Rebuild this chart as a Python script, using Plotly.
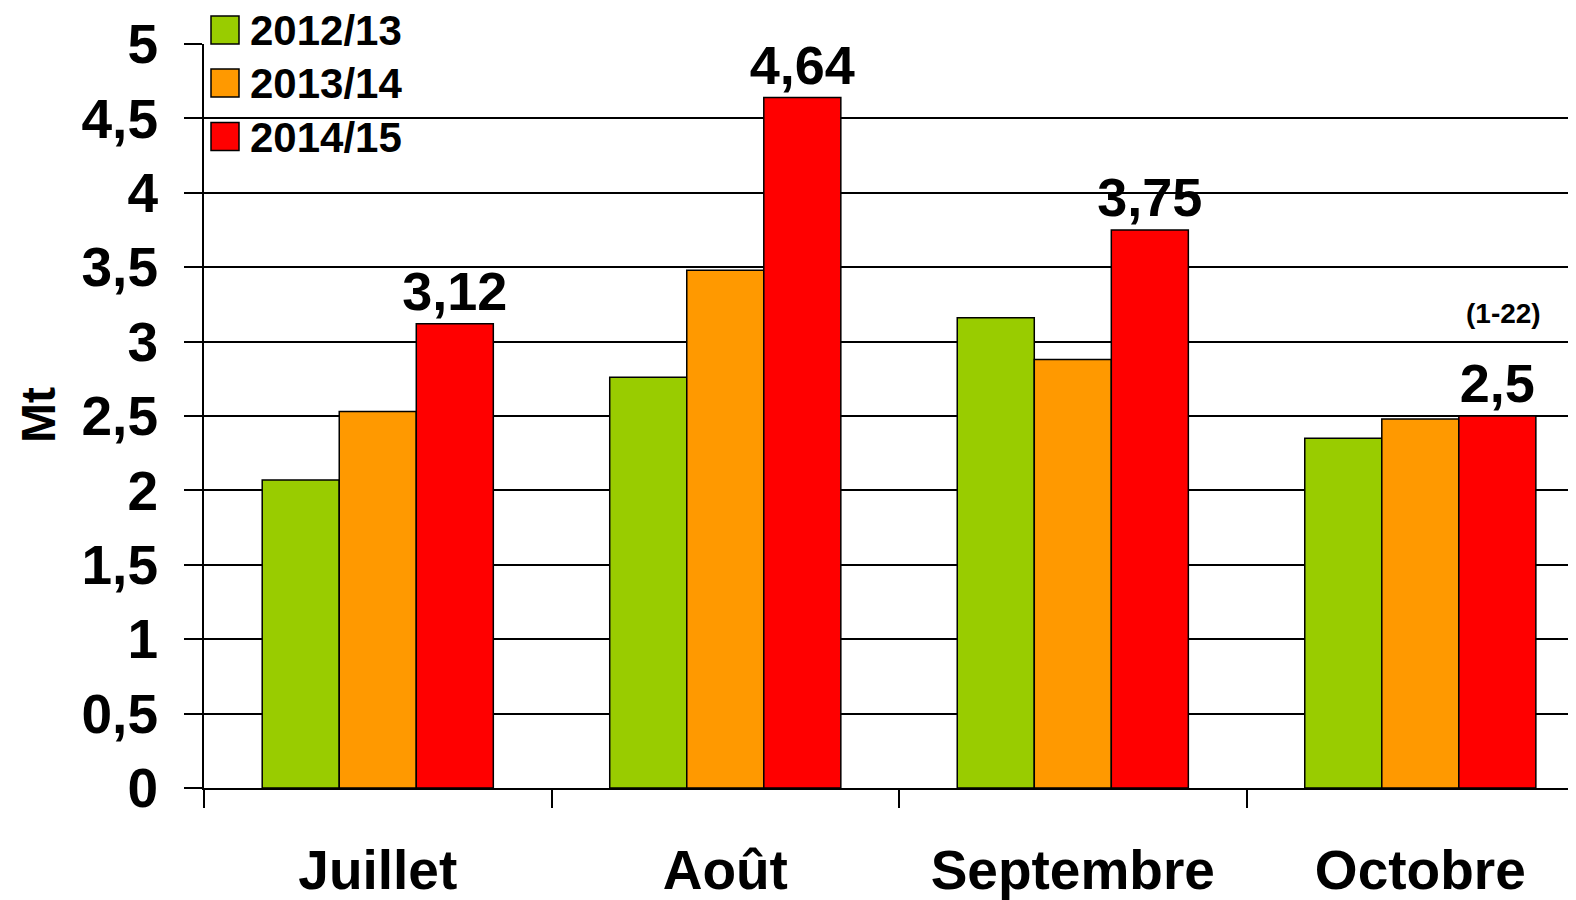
import plotly.graph_objects as go

months = ["Juillet", "Août", "Septembre", "Octobre"]
seasons = ["2012/13", "2013/14", "2014/15"]
v_2012_13 = [2.07, 2.76, 3.16, 2.35]
v_2013_14 = [2.53, 3.48, 2.88, 2.48]
v_2014_15 = [3.12, 4.64, 3.75, 2.5]
colors = ["#99CC00", "#FF9900", "#FF0000"]
y_ticks = [0, 0.5, 1, 1.5, 2, 2.5, 3, 3.5, 4, 4.5, 5]
oct_note = "(1-22)"

# page body has an 8px default margin
OFF = 8
W, H = 1576 - OFF, 900 - OFF
PX0, PY0, PY1 = 204, 44, 788          # page coords of plot left / top / bottom
L, T = PX0 - OFF, PY0 - OFF
B = H - (PY1 - OFF)
R = 0
PW, PH = W - L - R, PY1 - PY0
BARGAP = 0.335
FONT = "Liberation Sans, Arial, sans-serif"

def px(xp):
    return (xp - PX0) / PW

def py(yp):
    return (PY1 - yp) / PH

fig = go.Figure()
series = [v_2012_13, v_2013_14, v_2014_15]
for i, (name, vals) in enumerate(zip(seasons, series)):
    kw = {}
    if i == 2:
        kw = dict(text=[f"{v:g}".replace(".", ",") for v in vals],
                  textposition="outside", cliponaxis=False, constraintext="none",
                  textfont=dict(family=FONT, size=54, color="black", weight="bold"))
    fig.add_trace(go.Bar(x=months, y=vals, name=name, marker_color=colors[i],
                         marker_line=dict(color="black", width=1.5),
                         showlegend=False, **kw))

bw = (1 - BARGAP) / 3
fig.add_annotation(x=3 + bw, y=3.19, xref="x", yref="y", text=oct_note, showarrow=False,
                   xshift=6,
                   font=dict(family=FONT, size=28, color="black", weight="bold"))

# legend drawn manually (white backdrop, squares, labels)
shapes = [dict(type="rect", xref="paper", yref="paper", x0=px(205), x1=px(452),
               y0=py(166), y1=py(OFF), fillcolor="white", line_width=0, layer="between")]
row_y = [30, 83, 136.5]
for i, name in enumerate(seasons):
    shapes.append(dict(type="rect", xref="paper", yref="paper",
                       x0=px(211), x1=px(239), y0=py(row_y[i] + 14), y1=py(row_y[i] - 14),
                       fillcolor=colors[i], line=dict(color="black", width=1.5), layer="above"))
    fig.add_annotation(x=px(248), y=py(row_y[i] + 1), xref="paper", yref="paper", text=name,
                       xanchor="left", yanchor="middle", showarrow=False,
                       font=dict(family=FONT, size=42, color="black", weight="bold"))

fig.add_annotation(x=px(38), y=py(415), xref="paper", yref="paper", text="Mt", textangle=-90,
                   showarrow=False, xanchor="center", yanchor="middle",
                   font=dict(family=FONT, size=48, color="black", weight="bold"))

fig.update_layout(
    width=W, height=H, margin=dict(l=L, r=R, t=T, b=B, pad=0),
    paper_bgcolor="white", plot_bgcolor="white", barmode="group",
    bargap=BARGAP, bargroupgap=0, separators=", ", shapes=shapes,
    font=dict(family=FONT, color="black"),
)
fig.update_xaxes(range=[-0.5, 3.448], showline=True, linecolor="black", linewidth=2,
                 ticks="outside", tickson="boundaries", ticklen=18, tickwidth=2, tickcolor="black",
                 showgrid=False, ticklabelstandoff=33,
                 tickfont=dict(family=FONT, size=55, color="black", weight="bold"))
fig.update_yaxes(range=[0, 5], tickvals=y_ticks, showline=True, linecolor="black", linewidth=2,
                 ticks="outside", ticklen=18, tickwidth=2, tickcolor="black",
                 showgrid=True, gridcolor="black", gridwidth=1.5, zeroline=False,
                 ticklabelstandoff=15,
                 tickfont=dict(family=FONT, size=55, color="black", weight="bold"))

fig.write_html("out.html")
